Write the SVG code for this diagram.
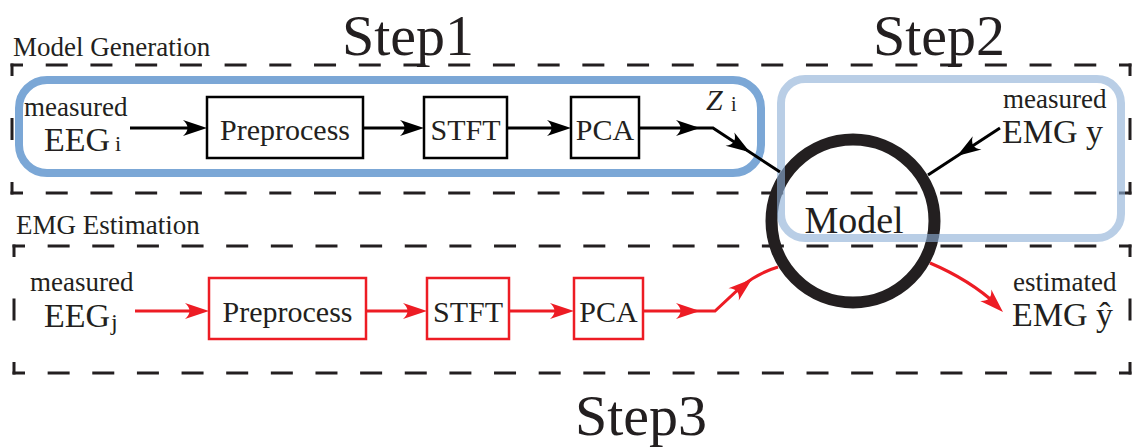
<svg xmlns="http://www.w3.org/2000/svg" xmlns:xlink="http://www.w3.org/1999/xlink" width="1133" height="448" viewBox="0 0 1133 448">
  <style>
    text { font-family: "Liberation Serif", "Times New Roman", serif; fill: #231F20; }
    .frame { fill: none; stroke: #231F20; stroke-width: 3; stroke-linecap: square; }
    .blk { fill: none; stroke: #000; stroke-width: 3; }
    .red { fill: none; stroke: #ED1C24; stroke-width: 3; }
    .boxk { fill: #fff; stroke: #000; stroke-width: 2.5; }
    .boxr { fill: #fff; stroke: #ED1C24; stroke-width: 2.5; }
    .lbl { font-size: 30px; text-anchor: middle; }
    .small { font-size: 27px; }
    .big { font-size: 34px; }
    .step { font-size: 58px; }
  </style>
  <defs>
    <!-- concave arrowhead, tip at origin pointing +x -->
    <path id="ah" d="M0,0 L-24,-8 Q-15,0 -24,8 Z"/>
  </defs>

  <!-- dashed section frames (corner-aligned dashes) -->
  <g id="frames">
    <g id="frame-generation">
      <line class="frame" x1="12" y1="65" x2="1130" y2="65" stroke-dasharray="19 25.72" stroke-dashoffset="9.5"/>
      <line class="frame" x1="12" y1="193" x2="1130" y2="193" stroke-dasharray="19 25.72" stroke-dashoffset="9.5"/>
      <line class="frame" x1="12" y1="65" x2="12" y2="193" stroke-dasharray="19 45" stroke-dashoffset="9.5"/>
      <line class="frame" x1="1130" y1="65" x2="1130" y2="193" stroke-dasharray="19 45" stroke-dashoffset="9.5"/>
    </g>
    <g id="frame-estimation">
      <line class="frame" x1="14" y1="246" x2="1130" y2="246" stroke-dasharray="19 25.64" stroke-dashoffset="9.5"/>
      <line class="frame" x1="14" y1="373" x2="1130" y2="373" stroke-dasharray="19 25.64" stroke-dashoffset="9.5"/>
      <line class="frame" x1="14" y1="246" x2="14" y2="373" stroke-dasharray="19 44.5" stroke-dashoffset="9.5"/>
      <line class="frame" x1="1130" y1="246" x2="1130" y2="373" stroke-dasharray="19 44.5" stroke-dashoffset="9.5"/>
    </g>
  </g>

  <!-- step groupings -->
  <rect id="step1-region" x="19" y="80" width="742" height="93" rx="28" fill="none" stroke="#7BA7D6" stroke-width="8"/>
  <circle id="model" cx="853" cy="221" r="81.5" fill="none" stroke="#231F20" stroke-width="12"/>
  <rect id="step2-region" x="781" y="79" width="340" height="159" rx="24" fill="none" stroke="#8EB0D7" stroke-opacity="0.62" stroke-width="8"/>

  <!-- connectors -->
  <g id="connectors">
    <g id="gen-connectors">
      <line class="blk" x1="130" y1="128" x2="199" y2="128"/>
      <use xlink:href="#ah" fill="#000" transform="translate(207,128)"/>
      <line class="blk" x1="363" y1="128" x2="416" y2="128"/>
      <use xlink:href="#ah" fill="#000" transform="translate(424,128)"/>
      <line class="blk" x1="507" y1="128" x2="563" y2="128"/>
      <use xlink:href="#ah" fill="#000" transform="translate(571,128)"/>
      <polyline class="blk" points="639,128 713,128 780,172"/>
      <use xlink:href="#ah" fill="#000" transform="translate(700,128)"/>
      <use xlink:href="#ah" fill="#000" transform="translate(750,152.3) rotate(33.3)"/>
      <line class="blk" x1="1000" y1="128" x2="928" y2="175"/>
      <use xlink:href="#ah" fill="#000" transform="translate(957,156) rotate(146.9)"/>
    </g>
    <g id="est-connectors">
      <line class="red" x1="135" y1="311" x2="201" y2="311"/>
      <use xlink:href="#ah" fill="#ED1C24" transform="translate(209,311)"/>
      <line class="red" x1="366" y1="311" x2="419" y2="311"/>
      <use xlink:href="#ah" fill="#ED1C24" transform="translate(427,311)"/>
      <line class="red" x1="509" y1="311" x2="566" y2="311"/>
      <use xlink:href="#ah" fill="#ED1C24" transform="translate(574,311)"/>
      <path class="red" d="M643,311 L715,311 L742,286 Q758,273 778,267"/>
      <use xlink:href="#ah" fill="#ED1C24" transform="translate(700,311)"/>
      <use xlink:href="#ah" fill="#ED1C24" transform="translate(752,279) rotate(-40)"/>
      <path class="red" d="M930,263 Q970,280 997,305"/>
      <use xlink:href="#ah" fill="#ED1C24" transform="translate(1003,312) rotate(44)"/>
    </g>
  </g>

  <!-- processing nodes: model generation -->
  <g id="gen-preprocess"><rect class="boxk" x="207" y="97" width="156" height="61"/><text class="lbl" x="285" y="140">Preprocess</text></g>
  <g id="gen-stft"><rect class="boxk" x="424" y="97" width="83" height="61"/><text class="lbl" x="465.5" y="140">STFT</text></g>
  <g id="gen-pca"><rect class="boxk" x="571" y="97" width="68" height="61"/><text class="lbl" x="605" y="140">PCA</text></g>

  <!-- processing nodes: EMG estimation -->
  <g id="est-preprocess"><rect class="boxr" x="209" y="278" width="157" height="61"/><text class="lbl" x="287.5" y="322">Preprocess</text></g>
  <g id="est-stft"><rect class="boxr" x="427" y="278" width="82" height="61"/><text class="lbl" x="468" y="322">STFT</text></g>
  <g id="est-pca"><rect class="boxr" x="574" y="278" width="69" height="61"/><text class="lbl" x="608.5" y="322">PCA</text></g>

  <!-- inputs / outputs -->
  <g id="eeg-i">
    <text class="small" x="24" y="116">measured</text>
    <text class="big" x="44" y="151">EEG</text>
    <text x="115" y="151" font-size="22">i</text>
  </g>
  <g id="z-i">
    <text x="706" y="110" font-size="30" font-style="italic">Z</text>
    <text x="731" y="111" font-size="20">i</text>
  </g>
  <g id="emg-y">
    <text class="small" x="1003" y="108">measured</text>
    <text x="1002" y="143" font-size="34">EMG y</text>
  </g>
  <g id="eeg-j">
    <text class="small" x="30" y="291">measured</text>
    <text class="big" x="44" y="327">EEG</text>
    <text x="111" y="330" font-size="24">j</text>
  </g>
  <g id="emg-yhat">
    <text class="small" x="1013" y="291">estimated</text>
    <text x="1012" y="326" font-size="34">EMG ŷ</text>
  </g>

  <text id="model-label" x="854" y="233" font-size="38" text-anchor="middle">Model</text>

  <!-- section and step titles -->
  <text class="small" x="13" y="56">Model Generation</text>
  <text class="small" x="16" y="234">EMG Estimation</text>
  <text class="step" x="342" y="55">Step1</text>
  <text class="step" x="873" y="55">Step2</text>
  <text class="step" x="575" y="435">Step3</text>
</svg>
